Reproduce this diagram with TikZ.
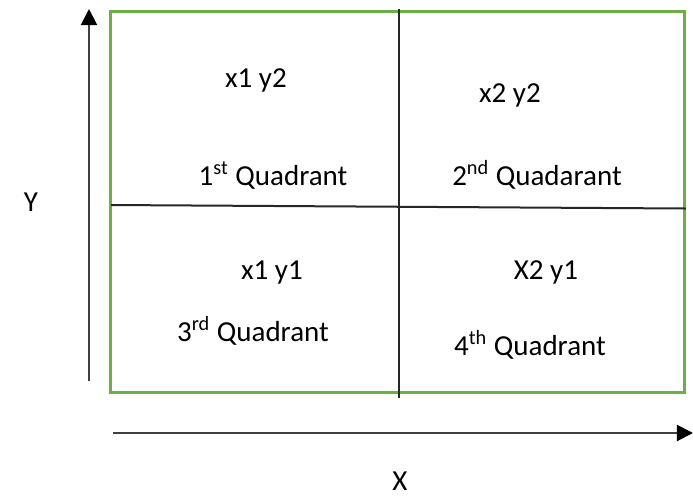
\documentclass[tikz,border=0pt]{standalone}
\usepackage{fontspec}
\setmainfont{Carlito}
\usetikzlibrary{arrows.meta}
\definecolor{boxgreen}{HTML}{70AD47}
\definecolor{axisgray}{HTML}{404040}

\begin{document}
\begin{tikzpicture}[x=0.5pt, y=-0.5pt,
          every node/.style={font=\fontsize{14.5}{16}\selectfont, inner sep=0pt, anchor=base},
          axis/.style={line width=1pt, draw=axisgray, -{Triangle[width=8pt,length=8pt,color=black]}},
          divider/.style={line width=1pt, draw=black!85}]
          \useasboundingbox (0,0) rectangle (693,495);

          \draw[boxgreen, line width=1.5pt] (110.5,11) rectangle (685,392.5);

          \coordinate (vtop) at (399,9);
          \coordinate (vbot) at (399,398);
          \coordinate (hleft) at (111,205);
          \coordinate (hright) at (686,208.5);
          \draw[divider] (vtop) -- (vbot);
          \draw[divider] (hleft) -- (hright);

          \coordinate (yfoot) at (89,381);
          \coordinate (ytip) at (89,9);
          \coordinate (xfoot) at (113,433);
          \coordinate (xtip) at (693,433);
          \draw[axis] (yfoot) -- (ytip);
          \draw[axis] (xfoot) -- (xtip);

          \node (ylbl) at (31,211) {Y};
          \node (xlbl) at (400,490) {X};

          \node (q1) at (256,87) {x1 y2};
          \node (q1lbl) at (273,185) {1\textsuperscript{st} Quadrant};
          \node (q2) at (510,102) {x2 y2};
          \node (q2lbl) at (537,185) {2\textsuperscript{nd} Quadarant};
          \node (q3) at (272,279) {x1 y1};
          \node (q3lbl) at (253,341) {3\textsuperscript{rd} Quadrant};
          \node (q4) at (546,279) {X2 y1};
          \node (q4lbl) at (530,355) {4\textsuperscript{th} Quadrant};
        \end{tikzpicture}
\end{document}
